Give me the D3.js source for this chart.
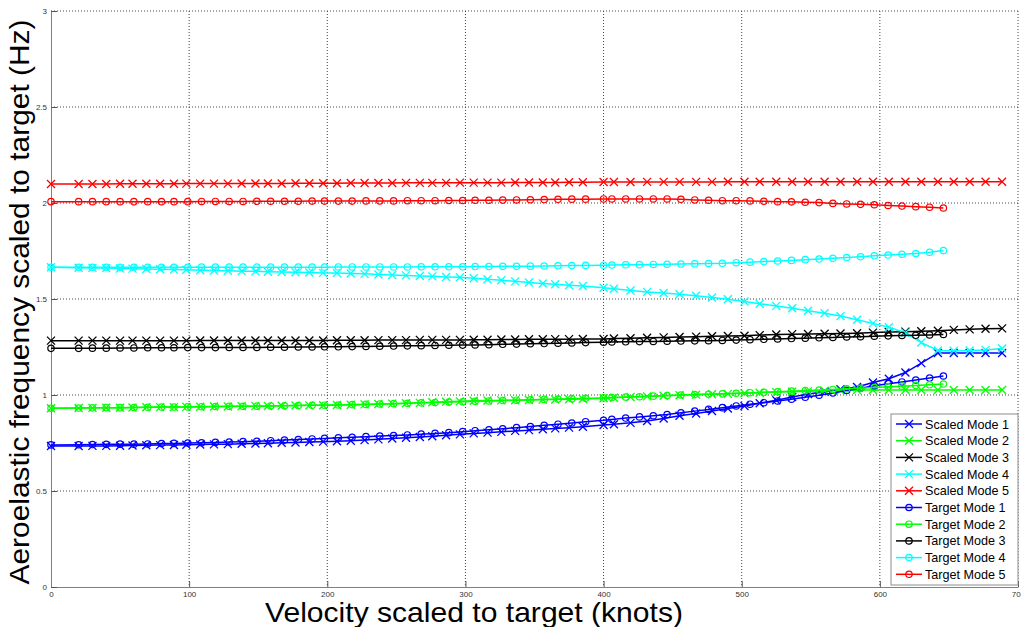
<!DOCTYPE html>
<html>
<head>
<meta charset="utf-8">
<script src="https://cdn.jsdelivr.net/npm/d3@7"></script>
<style>
  body { margin: 0; background: #fff; }
  svg { display: block; font-family: "Liberation Sans", Arial, sans-serif; }
  .tick text { font-size: 8px; fill: #333; font-family: "Liberation Sans Narrow", "Arial Narrow", "Liberation Sans", Arial, sans-serif; }
  .tick line { stroke: #555; }
  .domain { stroke: #808080; }
  .grid { stroke: #444; stroke-width: 1; stroke-dasharray: 1,2; }
  .axisLabel { font-size: 28px; fill: #000; }
  .legendText { font-size: 12.6px; fill: #000; }
</style>
</head>
<body>
<div id="chart"></div>
<script>
// velocities (knots) of the scaled and the target data sets
var velocityScaled = [0,20,30,40,50,59,69,79,89,98,108,118,128,138,148,157,167,177,187,197,207,217,227,237,247,257,267,276,286,296,306,316,326,336,346,356,365,375,385,
  400,407.5,419.5,431.5,443.5,455,467,478.5,490,502,513,525,536.5,548,560,571.5,583.5,595,606.5,618.5,630,642,653.5,665,676.5,688.5];
var velocityTarget = [0,20,30,40,50,60,70,80,89,99,109,119,129,139,149,159,169,179,189,198,208,218,228,238,248,258,268,278,288,298,307,317,327,337,347,357,367,377,387,
  400,406,416,426,436,446,456,466,476,486,496,506,516,526,536,546,556,566,576,586,596,606,616,626,636,646];

// aeroelastic frequency (Hz)
var scaledMode1 = [0.734,0.734,0.735,0.735,0.736,0.737,0.738,0.739,0.740,0.741,0.742,0.743,0.744,0.746,0.747,0.749,0.751,0.753,0.755,0.757,
  0.759,0.762,0.765,0.769,0.773,0.777,0.781,0.785,0.790,0.795,0.800,0.804,0.808,0.813,0.817,0.822,0.826,0.830,0.835,
  0.844,0.848,0.855,0.865,0.878,0.892,0.904,0.917,0.930,0.943,0.957,0.973,0.990,1.005,1.017,1.030,1.042,1.065,1.085,1.117,
  1.166,1.219,1.219,1.219,1.219,1.219];
var scaledMode2 = [0.931,0.932,0.933,0.934,0.934,0.935,0.936,0.937,0.937,0.938,0.939,0.940,0.940,0.941,0.942,0.943,0.944,0.945,0.946,0.947,
  0.948,0.949,0.951,0.953,0.955,0.957,0.959,0.962,0.965,0.967,0.970,0.971,0.972,0.973,0.974,0.976,0.977,0.978,0.979,
  0.983,0.986,0.990,0.993,0.996,0.999,1.002,1.004,1.006,1.009,1.012,1.015,1.017,1.020,1.022,1.024,1.026,1.026,1.026,1.026,
  1.026,1.026,1.026,1.026,1.026,1.026];
var scaledMode3 = [1.283,1.283,1.283,1.283,1.283,1.283,1.283,1.283,1.283,1.283,1.284,1.284,1.284,1.284,1.284,1.284,1.284,1.284,1.284,1.284,
  1.285,1.285,1.285,1.286,1.286,1.286,1.287,1.287,1.287,1.287,1.288,1.288,1.289,1.289,1.290,1.290,1.291,1.291,1.292,
  1.292,1.294,1.296,1.298,1.300,1.302,1.304,1.306,1.307,1.309,1.312,1.315,1.317,1.318,1.319,1.320,1.322,1.325,1.328,1.330,
  1.332,1.335,1.339,1.342,1.345,1.347];
var scaledMode4 = [1.665,1.663,1.662,1.661,1.659,1.658,1.656,1.655,1.653,1.652,1.650,1.648,1.647,1.645,1.644,1.642,1.641,1.639,1.638,1.636,
  1.635,1.633,1.631,1.628,1.625,1.623,1.620,1.618,1.615,1.613,1.608,1.603,1.598,1.592,1.586,1.581,1.577,1.572,1.568,
  1.559,1.553,1.544,1.537,1.531,1.525,1.517,1.508,1.499,1.487,1.475,1.464,1.452,1.439,1.426,1.411,1.392,1.373,1.353,1.324,
  1.273,1.232,1.231,1.232,1.235,1.242];
var scaledMode5 = [2.099,2.099,2.099,2.099,2.100,2.100,2.100,2.100,2.100,2.101,2.101,2.101,2.101,2.102,2.102,2.102,2.102,2.103,2.103,2.103,
  2.103,2.104,2.104,2.104,2.104,2.105,2.105,2.105,2.105,2.106,2.106,2.106,2.106,2.107,2.107,2.107,2.107,2.108,2.108,
  2.109,2.109,2.109,2.110,2.110,2.110,2.110,2.110,2.111,2.111,2.111,2.111,2.111,2.111,2.111,2.111,2.111,2.111,2.111,2.111,
  2.111,2.111,2.111,2.111,2.111,2.111];

var targetMode1 = [0.740,0.741,0.742,0.743,0.744,0.744,0.745,0.747,0.748,0.750,0.751,0.753,0.755,0.757,0.759,0.762,0.765,0.768,0.771,0.774,
  0.777,0.780,0.783,0.786,0.789,0.792,0.796,0.800,0.804,0.809,0.814,0.819,0.824,0.830,0.836,0.842,0.848,0.854,0.861,
  0.868,0.873,0.880,0.886,0.892,0.898,0.907,0.916,0.925,0.934,0.943,0.952,0.960,0.969,0.978,0.988,0.999,1.011,1.024,1.035,
  1.048,1.059,1.068,1.078,1.088,1.099];
var targetMode2 = [0.931,0.932,0.933,0.934,0.934,0.935,0.936,0.937,0.937,0.938,0.939,0.940,0.941,0.941,0.942,0.943,0.944,0.945,0.946,0.947,
  0.948,0.950,0.951,0.953,0.955,0.957,0.959,0.961,0.963,0.965,0.967,0.969,0.971,0.973,0.975,0.977,0.979,0.981,0.983,
  0.985,0.987,0.989,0.991,0.994,0.997,1.000,1.002,1.004,1.006,1.009,1.012,1.014,1.017,1.020,1.023,1.026,1.029,1.032,1.035,
  1.039,1.043,1.046,1.050,1.053,1.057];
var targetMode3 = [1.243,1.243,1.244,1.244,1.245,1.245,1.246,1.246,1.246,1.247,1.247,1.247,1.248,1.248,1.248,1.249,1.249,1.250,1.250,1.251,
  1.251,1.252,1.253,1.254,1.255,1.256,1.257,1.258,1.259,1.260,1.261,1.262,1.264,1.265,1.267,1.268,1.270,1.271,1.273,
  1.275,1.276,1.277,1.278,1.279,1.280,1.281,1.282,1.283,1.284,1.286,1.288,1.290,1.292,1.294,1.296,1.298,1.300,1.302,1.304,
  1.306,1.308,1.310,1.311,1.313,1.315];
var targetMode4 = [1.665,1.665,1.665,1.665,1.665,1.665,1.665,1.665,1.665,1.665,1.666,1.666,1.666,1.666,1.666,1.666,1.666,1.666,1.666,1.666,
  1.667,1.667,1.667,1.667,1.667,1.667,1.668,1.668,1.668,1.668,1.669,1.669,1.670,1.670,1.671,1.672,1.673,1.674,1.675,
  1.676,1.677,1.678,1.679,1.680,1.681,1.682,1.683,1.685,1.686,1.689,1.692,1.695,1.698,1.701,1.705,1.708,1.712,1.716,1.720,
  1.725,1.729,1.733,1.737,1.743,1.752];
var targetMode5 = [2.007,2.007,2.007,2.007,2.007,2.007,2.007,2.007,2.007,2.007,2.008,2.008,2.008,2.008,2.009,2.009,2.009,2.009,2.010,2.010,
  2.010,2.010,2.011,2.011,2.011,2.012,2.012,2.012,2.013,2.013,2.014,2.014,2.015,2.016,2.017,2.018,2.019,2.020,2.020,
  2.021,2.021,2.021,2.021,2.021,2.021,2.019,2.016,2.014,2.012,2.012,2.011,2.009,2.007,2.006,2.004,2.002,1.998,1.995,1.993,
  1.991,1.987,1.984,1.981,1.978,1.974];

var xTicks = [0, 100, 200, 300, 400, 500, 600, 700];
var yTicks = [0, 0.5, 1, 1.5, 2, 2.5, 3];
var modeColors = ["#0000ff", "#00ff00", "#000000", "#00ffff", "#ff0000"];

var series = [
  {name: "Scaled Mode 1", v: velocityScaled, f: scaledMode1, color: modeColors[0], marker: "x"},
  {name: "Scaled Mode 2", v: velocityScaled, f: scaledMode2, color: modeColors[1], marker: "x"},
  {name: "Scaled Mode 3", v: velocityScaled, f: scaledMode3, color: modeColors[2], marker: "x"},
  {name: "Scaled Mode 4", v: velocityScaled, f: scaledMode4, color: modeColors[3], marker: "x"},
  {name: "Scaled Mode 5", v: velocityScaled, f: scaledMode5, color: modeColors[4], marker: "x"},
  {name: "Target Mode 1", v: velocityTarget, f: targetMode1, color: modeColors[0], marker: "o"},
  {name: "Target Mode 2", v: velocityTarget, f: targetMode2, color: modeColors[1], marker: "o"},
  {name: "Target Mode 3", v: velocityTarget, f: targetMode3, color: modeColors[2], marker: "o"},
  {name: "Target Mode 4", v: velocityTarget, f: targetMode4, color: modeColors[3], marker: "o"},
  {name: "Target Mode 5", v: velocityTarget, f: targetMode5, color: modeColors[4], marker: "o"}
];
series.forEach(s => s.points = s.v.map((v, i) => [v, s.f[i]]));

var margin = {top: 11, right: 3, bottom: 40, left: 51},
    width = 1021 - margin.left - margin.right,
    height = 627 - margin.top - margin.bottom;

var svg = d3.select("#chart")
  .append("svg")
    .attr("width", 1021)
    .attr("height", 627)
  .append("g")
    .attr("transform", "translate(" + margin.left + "," + margin.top + ")");

var x = d3.scaleLinear().domain([0, 700]).range([0, width]);
var y = d3.scaleLinear().domain([0, 3]).range([height, 0]);

// dotted grid
svg.selectAll("xGrid")
  .data(xTicks.slice(1))
  .enter()
  .append("line")
    .attr("class", "grid")
    .attr("x1", d => x(d)).attr("x2", d => x(d))
    .attr("y1", 0).attr("y2", height);
svg.selectAll("yGrid")
  .data(yTicks.slice(1))
  .enter()
  .append("line")
    .attr("class", "grid")
    .attr("x1", 0).attr("x2", width)
    .attr("y1", d => y(d)).attr("y2", d => y(d));

// axes, ticks pointing inward
svg.append("g")
  .attr("transform", "translate(0," + height + ")")
  .call(d3.axisBottom(x).tickValues(xTicks).tickSize(-6).tickSizeOuter(0).tickPadding(4));
svg.append("g")
  .call(d3.axisLeft(y).tickValues(yTicks).tickFormat(d3.format("")).tickSize(-6).tickSizeOuter(0).tickPadding(4));

// markers
function xMark(sel, s) {
  sel.attr("d", "M-4,-4L4,4M-4,4L4,-4")
    .attr("fill", "none")
    .attr("stroke", s.color)
    .attr("stroke-width", 1.3);
}

var line = d3.line().x(d => x(d[0])).y(d => y(d[1]));

series.forEach(function(s) {
  var g = svg.append("g");
  g.append("path")
    .datum(s.points)
    .attr("d", line)
    .attr("fill", "none")
    .attr("stroke", s.color)
    .attr("stroke-width", 1.5);
  if (s.marker == "x") {
    g.selectAll("mark")
      .data(s.points)
      .enter()
      .append("path")
        .attr("transform", d => "translate(" + x(d[0]) + "," + y(d[1]) + ")")
        .call(xMark, s);
  } else {
    g.selectAll("mark")
      .data(s.points)
      .enter()
      .append("circle")
        .attr("cx", d => x(d[0]))
        .attr("cy", d => y(d[1]))
        .attr("r", 3.2)
        .attr("fill", "none")
        .attr("stroke", s.color)
        .attr("stroke-width", 1.2);
  }
});

// axis labels (placed as in the exported figure, a bit left of / above centre)
svg.append("text")
  .attr("class", "axisLabel")
  .attr("x", 423)
  .attr("y", height + 35)
  .attr("textLength", 418)
  .attr("lengthAdjust", "spacingAndGlyphs")
  .style("text-anchor", "middle")
  .text("Velocity scaled to target (knots)");
svg.append("text")
  .attr("class", "axisLabel")
  .attr("transform", "translate(" + (-22) + "," + 291 + ") rotate(-90)")
  .attr("textLength", 565)
  .attr("lengthAdjust", "spacingAndGlyphs")
  .style("text-anchor", "middle")
  .text("Aeroelastic frequency scaled to target (Hz)");

// legend
var legend = svg.append("g").attr("transform", "translate(" + (width - 127) + "," + 403 + ")");
legend.append("rect")
  .attr("width", 127)
  .attr("height", 171)
  .attr("fill", "#fff")
  .attr("stroke", "#8c8c8c");
var rows = legend.selectAll("row")
  .data(series)
  .enter()
  .append("g")
    .attr("transform", (d, i) => "translate(0," + (10 + i * 16.7) + ")");
rows.append("line")
  .attr("x1", 5).attr("x2", 31)
  .attr("stroke", d => d.color)
  .attr("stroke-width", 1.5);
rows.each(function(s) {
  var r = d3.select(this);
  if (s.marker == "x") r.append("path").attr("transform", "translate(18,0)").call(xMark, s);
  else r.append("circle").attr("cx", 18).attr("r", 3.2).attr("fill", "none").attr("stroke", s.color).attr("stroke-width", 1.2);
});
rows.append("text")
  .attr("class", "legendText")
  .attr("x", 34)
  .attr("dy", "0.36em")
  .text(d => d.name);
</script>
</body>
</html>
